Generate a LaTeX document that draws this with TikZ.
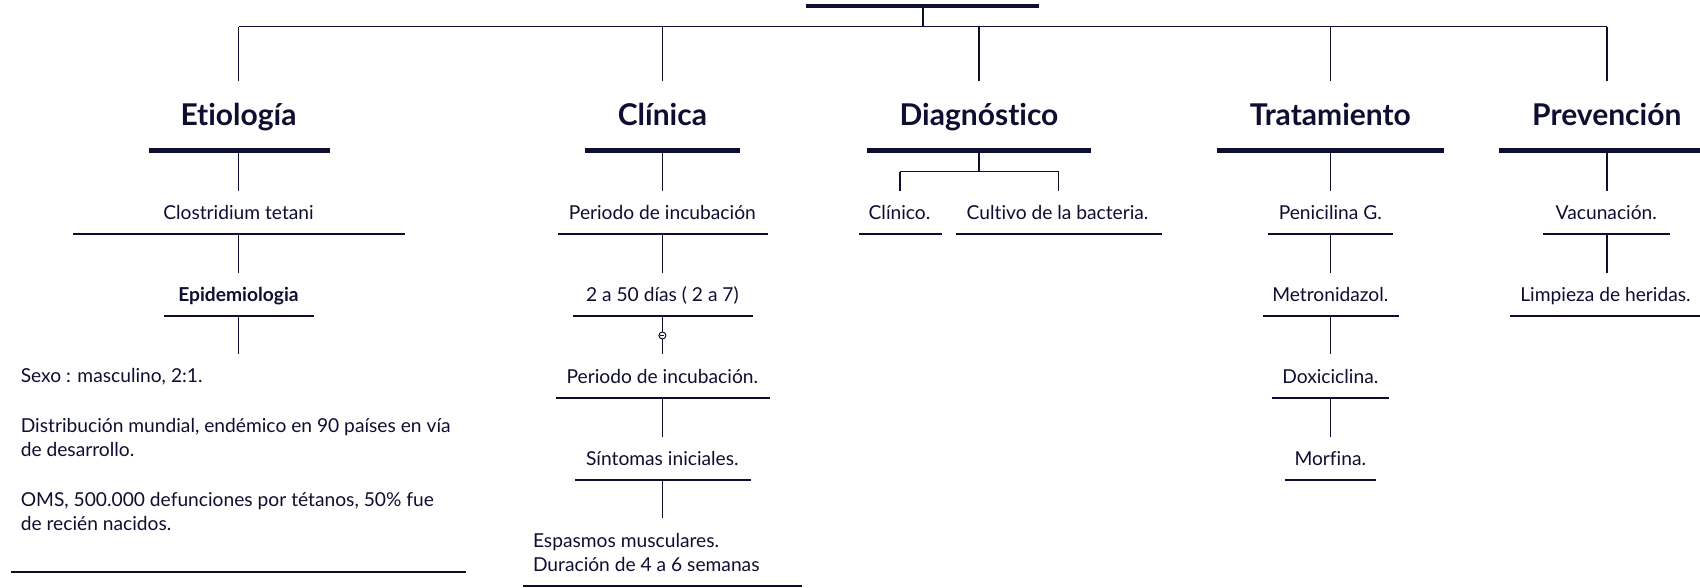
\documentclass[tikz,border=0pt]{standalone}
\usepackage{fontspec}
\setmainfont{Lato}[Ligatures=NoCommon]
\definecolor{navy}{RGB}{14,14,48}
\tikzset{
  conn/.style={draw=navy, line width=1.4pt},
  uline/.style={draw=navy, line width=1.8pt},
  thick bar/.style={draw=navy, line width=4.5pt},
  title/.style={text=navy, font=\fontsize{30}{36}\selectfont\bfseries, inner sep=0pt, anchor=base},
  item/.style={text=navy, font=\fontsize{19.2}{24}\selectfont, inner sep=0pt, anchor=base},
  para/.style={text=navy, font=\fontsize{19.2}{24}\selectfont, inner sep=0pt, anchor=base west},
}
\begin{document}
\begin{tikzpicture}[x=1pt,y=-1pt]
\useasboundingbox (0,0) rectangle (1700,587);
% root
\draw[thick bar] (805.5,6) -- (1039,6);
\coordinate (root) at (923,8);
\coordinate (hub) at (923,26.7);
\draw[conn] (root) -- (hub);
% top connector line
\coordinate (ettop) at (238.5,26.7);
\coordinate (cltop) at (662.4,26.7);
\coordinate (ditop) at (979,26.7);
\coordinate (trtop) at (1330.3,26.7);
\coordinate (prtop) at (1606.8,26.7);
\coordinate (etin) at (238.5,81);
\coordinate (clin) at (662.4,81);
\coordinate (diin) at (979,81);
\coordinate (trin) at (1330.3,81);
\coordinate (prin) at (1606.8,81);
\draw[conn] (ettop) -- (prtop);
\draw[conn] (ettop) -- (etin);
\draw[conn] (cltop) -- (clin);
\draw[conn] (ditop) -- (diin);
\draw[conn] (trtop) -- (trin);
\draw[conn] (prtop) -- (prin);
% titles
\node[title] (et) at (238.5,125) {Etiología};
\node[title] (cl) at (662.4,125) {Clínica};
\node[title] (di) at (979,125) {Diagnóstico};
\node[title] (tr) at (1330.3,125) {Tratamiento};
\node[title] (pr) at (1606.8,125) {Prevención};
\draw[thick bar] (148.5,150.7) -- (329.6,150.7);
\draw[thick bar] (585,150.7) -- (740,150.7);
\draw[thick bar] (867,150.7) -- (1091,150.7);
\draw[thick bar] (1217,150.7) -- (1443.5,150.7);
\draw[thick bar] (1499,150.7) -- (1700,150.7);

% ---------- Etiologia column
\node[item] (e1) at (238.5,219.5) {Clostridium tetani};
\draw[uline] (72.6,234) -- (405.4,234);
\node[item, font=\fontsize{19.2}{24}\selectfont\bfseries] (e2) at (238.5,301) {Epidemiologia};
\draw[uline] (164,315.7) -- (314.4,315.7);
\node[para] (e3) at (20.6,382.7) {Sexo : masculino, 2:1.};
\node[para] (e4) at (20.6,432.7) {Distribución mundial, endémico en 90 países en vía};
\node[para] (e5) at (20.6,456.7) {de desarrollo.};
\node[para] (e6) at (20.6,506.7) {OMS, 500.000 defunciones por tétanos, 50\% fue};
\node[para] (e7) at (20.6,530.7) {de recién nacidos.};
\draw[uline] (10.8,572) -- (466,572);
\draw[conn] (238.5,153) -- (238.5,191);
\draw[conn] (238.5,235) -- (238.5,272.7);
\draw[conn] (238.5,316.7) -- (238.5,354);

% ---------- Clinica column
\node[item] (c1) at (662.4,219.5) {Periodo de incubación};
\draw[uline] (558,234) -- (768,234);
\node[item] (c2) at (662.4,301) {2 a 50 días ( 2 a 7)};
\draw[uline] (573,315.7) -- (753,315.7);
\node[item] (c3) at (662.4,383) {Periodo de incubación.};
\draw[uline] (555.5,397.7) -- (770,397.7);
\node[item] (c4) at (662.4,465.5) {Síntomas iniciales.};
\draw[uline] (575,480) -- (750.7,480);
\node[para] (c5) at (532.8,547.3) {Espasmos musculares.};
\node[para] (c6) at (532.8,571.5) {Duración de 4 a 6 semanas};
\draw[uline] (523,585.7) -- (802,585.7);
\draw[conn] (662.4,153) -- (662.4,191);
\draw[conn] (662.4,235) -- (662.4,272.7);
\draw[conn] (662.4,316.7) -- (662.4,354);
\draw[conn] (662.4,398.7) -- (662.4,436.7);
\draw[conn] (662.4,481) -- (662.4,518);
\node[circle, draw=navy, fill=white, line width=1pt, minimum size=7pt, inner sep=0pt] (toggle) at (662.4,335.5) {};
\draw[navy, line width=0.9pt] ([xshift=-2pt]toggle.center) -- ([xshift=2pt]toggle.center);

% ---------- Diagnostico column
\coordinate (dsplit) at (979,171.7);
\coordinate (dl) at (900,171.7);
\coordinate (dr) at (1058.7,171.7);
\draw[conn] (979,153) -- (dsplit);
\draw[conn] (dl) -- (dr);
\draw[conn] (dl) -- (900,190.7);
\draw[conn] (dr) -- (1058.7,190.7);
\node[item] (d1) at (899.5,219.5) {Clínico.};
\draw[uline] (859,234) -- (942,234);
\node[item] (d2) at (1057.6,219.5) {Cultivo de la bacteria.};
\draw[uline] (955.7,234) -- (1161.6,234);

% ---------- Tratamiento column
\node[item] (t1) at (1330.3,219.5) {Penicilina G.};
\draw[uline] (1268,234) -- (1392.5,234);
\node[item] (t2) at (1330.3,301) {Metronidazol.};
\draw[uline] (1263,315.7) -- (1398.5,315.7);
\node[item] (t3) at (1330.3,383) {Doxiciclina.};
\draw[uline] (1271.7,397.7) -- (1388.7,397.7);
\node[item] (t4) at (1330.3,465.5) {Morfina.};
\draw[uline] (1285,480) -- (1375.7,480);
\draw[conn] (1330.3,153) -- (1330.3,191);
\draw[conn] (1330.3,235) -- (1330.3,272.7);
\draw[conn] (1330.3,316.7) -- (1330.3,354);
\draw[conn] (1330.3,398.7) -- (1330.3,436.7);

% ---------- Prevencion column
\node[item] (p1) at (1606.3,219.5) {Vacunación.};
\draw[uline] (1543,234) -- (1669.5,234);
\node[item] (p2) at (1605.5,301) {Limpieza de heridas.};
\draw[uline] (1510,315.7) -- (1700,315.7);
\draw[conn] (1606.8,153) -- (1606.8,191);
\draw[conn] (1606.8,235) -- (1606.8,272.7);
\end{tikzpicture}
\end{document}
